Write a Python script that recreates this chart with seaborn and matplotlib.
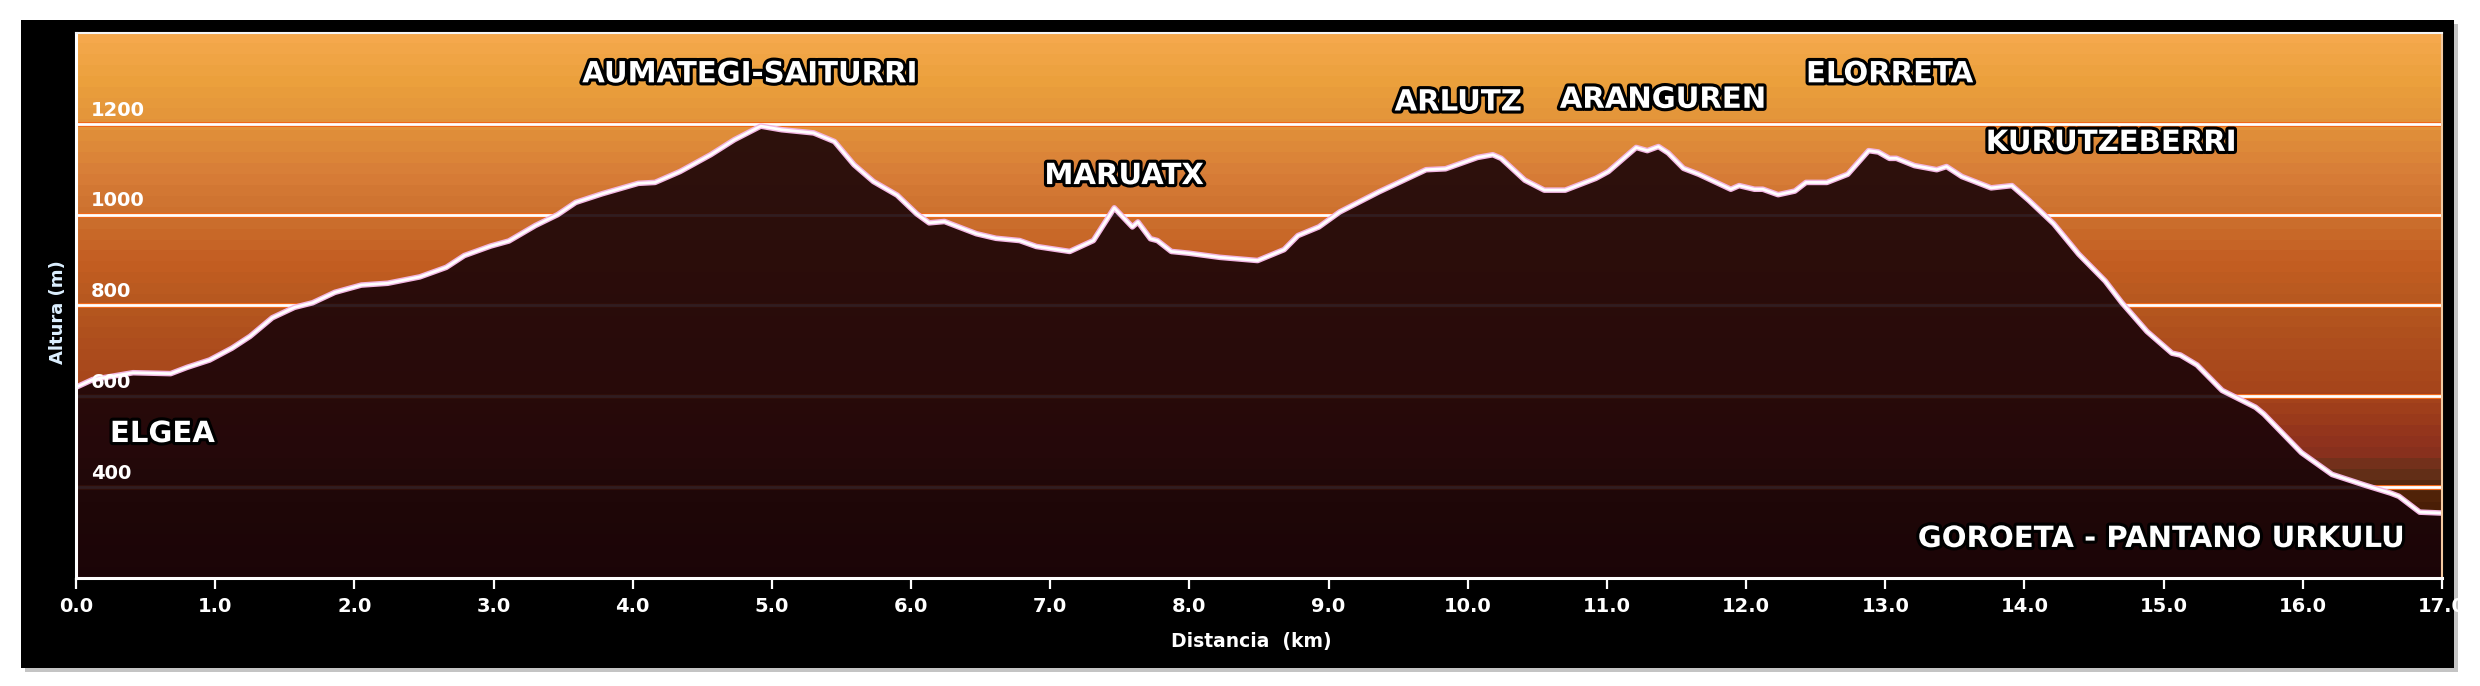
import numpy as np
import pandas as pd
import matplotlib
matplotlib.use("Agg")
import matplotlib.pyplot as plt
import matplotlib.patheffects as pe
from matplotlib.colors import LinearSegmentedColormap
from matplotlib.patches import Rectangle
import seaborn as sns

# Perfil de altitud Elgea -> Goroeta (Pantano Urkulu)

dist_km = [0.00, 0.12, 0.41, 0.68, 0.80, 0.96, 1.12, 1.25, 1.41, 1.57, 1.70, 1.86,
           2.05, 2.24, 2.47, 2.66, 2.79, 2.98, 3.11, 3.30, 3.46, 3.59, 3.78, 4.04,
           4.16, 4.34, 4.56, 4.73, 4.92, 5.07, 5.30, 5.45, 5.59, 5.73, 5.90, 6.04,
           6.13, 6.24, 6.47, 6.61, 6.78, 6.90, 7.14, 7.31, 7.46, 7.59, 7.63, 7.72,
           7.77, 7.87, 8.00, 8.22, 8.49, 8.68, 8.78, 8.93, 9.08, 9.36, 9.70, 9.84,
           10.07, 10.18, 10.24, 10.41, 10.55, 10.70, 10.92, 11.01, 11.21, 11.29,
           11.37, 11.44, 11.55, 11.66, 11.89, 11.95, 12.06, 12.12, 12.23, 12.35,
           12.43, 12.58, 12.73, 12.88, 12.95, 13.03, 13.08, 13.21, 13.37, 13.44,
           13.55, 13.76, 13.91, 14.03, 14.21, 14.39, 14.58, 14.70, 14.88, 15.06,
           15.12, 15.24, 15.42, 15.66, 15.72, 15.99, 16.21, 16.45, 16.63, 16.69,
           16.84, 17.00]
alt_m = [620, 637, 652, 650, 664, 680, 706, 732, 773, 796, 806, 829,
         845, 849, 863, 884, 910, 931, 942, 976, 1000, 1027, 1046, 1069,
         1071, 1095, 1132, 1165, 1195, 1187, 1180, 1161, 1110, 1073, 1043, 1002,
         982, 985, 958, 948, 943, 930, 919, 943, 1015, 973, 984, 947,
         943, 919, 915, 906, 899, 923, 954, 973, 1006, 1050, 1099, 1101,
         1126, 1132, 1124, 1076, 1054, 1054, 1080, 1095, 1148, 1141,
         1150, 1136, 1102, 1089, 1056, 1064, 1056, 1056, 1044, 1052,
         1071, 1071, 1089, 1141, 1138, 1124, 1124, 1108, 1099, 1106,
         1084, 1059, 1064, 1032, 980, 913, 854, 806, 743, 695,
         691, 669, 613, 576, 561, 476, 428, 404, 387, 380,
         345, 343]

place_names = ["ELGEA", "AUMATEGI-SAITURRI", "MARUATX", "ARLUTZ", "ARANGUREN",
               "ELORRETA", "KURUTZEBERRI", "GOROETA - PANTANO URKULU"]
place_km  = [0.62, 4.84, 7.53, 9.93, 11.40, 13.03, 14.62, 14.98]
place_alt = [517, 1309, 1085, 1247, 1253, 1309, 1158, 286]

grid_levels = [400, 600, 800, 1000, 1200]
x_ticks = list(range(0, 18))

df = pd.DataFrame({"km": dist_km, "alt": alt_m})

sns.set_theme(style="white")
plt.rcParams["font.family"] = ["DejaVu Sans"]

fig = plt.figure(figsize=(24.8, 6.86), dpi=100)
fig.patch.set_facecolor("white")

# black frame with a light grey shadow
fig.patches.append(Rectangle((0.0101, 0.0205), 0.9811, 0.9447, transform=fig.transFigure,
                             facecolor="#c4c4c4", edgecolor="none", zorder=-2))
fig.patches.append(Rectangle((0.00847, 0.02624), 0.98105, 0.94461, transform=fig.transFigure,
                             facecolor="black", edgecolor="none", zorder=-1))

ax = fig.add_axes([0.03065, 0.15743, 0.95403, 0.79447])
ax.set_facecolor("black")

# banded sunset gradient behind the profile
stops = [(200, "#2a0c04"), (300, "#3e1a06"), (360, "#4e2006"), (400, "#5a2c12"),
         (430, "#66301a"), (470, "#8a301e"), (520, "#96361c"), (600, "#a6441b"),
         (700, "#ac4c1d"), (800, "#b6581f"), (900, "#c45e22"), (1000, "#cc702e"),
         (1100, "#d87e38"), (1200, "#e2923a"), (1300, "#eba03c"), (1400, "#f5a84c")]
cmap = LinearSegmentedColormap.from_list(
    "sunset", [((v - 200) / 1200, c) for v, c in stops])
bands = np.linspace(200, 1400, 50)[:, None]
ax.imshow(bands, extent=[0, 17, 200, 1400], origin="lower", aspect="auto",
          cmap=cmap, vmin=200, vmax=1400, interpolation="nearest", zorder=0)

for lvl in grid_levels:
    ax.axhline(lvl, color="#f06818", lw=3.6, zorder=1)
    ax.axhline(lvl, color="white", lw=2.0, zorder=1.1)

ax.fill_between(df["km"], df["alt"], 200, color="#1a0408", alpha=0.9, lw=0, zorder=2)
sns.lineplot(data=df, x="km", y="alt", ax=ax, color="#f2b6e2", lw=4.0,
             sort=False, estimator=None, zorder=3)
sns.lineplot(data=df, x="km", y="alt", ax=ax, color="white", lw=2.0,
             sort=False, estimator=None, zorder=4)

ax.set_xlim(0, 17.0)
ax.set_ylim(200, 1400)

# elevation labels sit inside the plot, just above each grid line
for lvl in grid_levels:
    ax.text(0.0063, lvl + 18, str(lvl), transform=ax.get_yaxis_transform(),
            ha="left", va="baseline", color="white", fontsize=14, fontweight="bold",
            zorder=6)

outline = [pe.withStroke(linewidth=4.5, foreground="black")]
for name, xk, ya in zip(place_names, place_km, place_alt):
    ax.text(xk, ya, name, ha="center", va="center", color="white", fontsize=21,
            fontweight="bold", path_effects=outline, zorder=7)

ax.set_xticks(x_ticks)
ax.set_xticklabels([f"{t:.1f}" for t in x_ticks])
ax.set_yticks([])
ax.tick_params(axis="x", colors="white", length=8, width=1.6, pad=6,
               labelsize=14, direction="out", bottom=True)
for lab in ax.get_xticklabels():
    lab.set_fontweight("bold")

for side in ["left", "bottom"]:
    ax.spines[side].set_color("white")
    ax.spines[side].set_linewidth(2.2)
ax.spines["top"].set_color("#f4f4f4")
ax.spines["top"].set_linewidth(1.5)
ax.spines["right"].set_color("#f3c9a0")
ax.spines["right"].set_linewidth(1.5)
for sp in ax.spines.values():
    sp.set_zorder(8)

ax.set_xlabel("Distancia  (km)", color="white", fontsize=13.5, fontweight="bold")
ax.xaxis.set_label_coords(0.4966, -0.117)
ax.xaxis.label.set_va("center")
ax.set_ylabel("Altura (m)", color="#dcefff", fontsize=13, fontweight="bold")
ax.yaxis.set_label_coords(-0.0076, 0.488)
ax.yaxis.label.set_va("center")

fig.savefig("out.png", dpi=100, facecolor=fig.get_facecolor())
plt.close(fig)
